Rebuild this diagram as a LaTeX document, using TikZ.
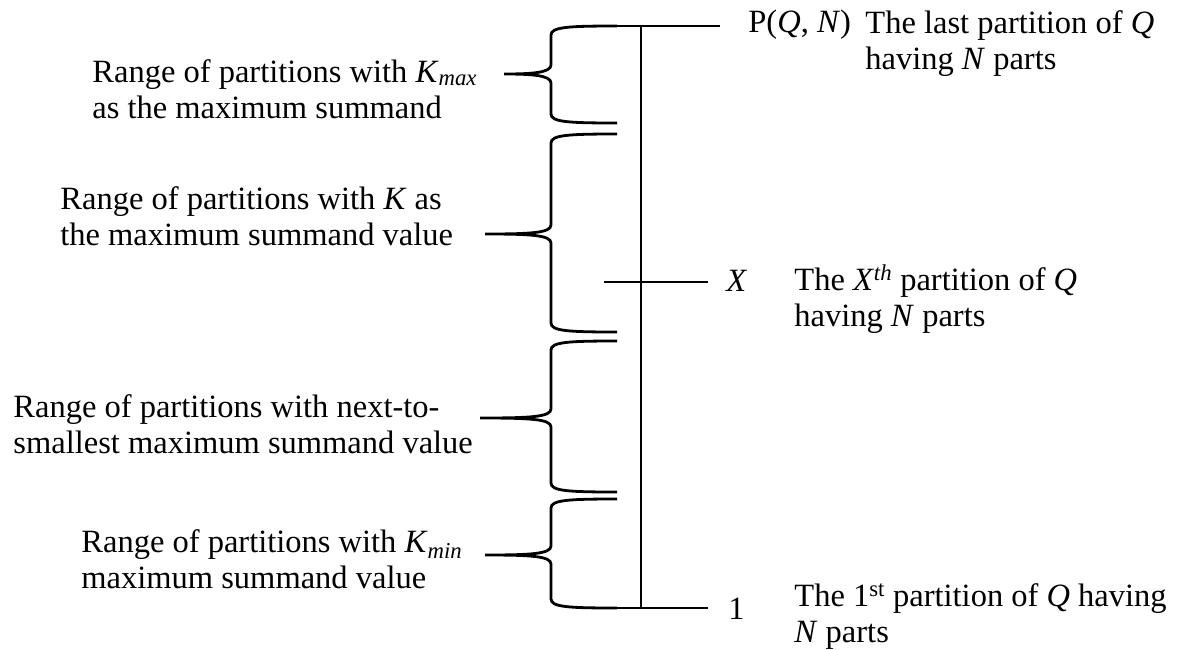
\documentclass[tikz,border=0pt]{standalone}
\usepackage{fontspec}
\setmainfont{Liberation Serif}
\newcommand{\mybrace}[4]{% top, middle, bottom, tip x
  \draw (617,#1) .. controls (568,#1) and (551,#1+1) .. (551,#1+9)
    -- (551,#2-9) .. controls (551,#2-1) and (530,#2) .. (#4,#2)
    .. controls (530,#2) and (551,#2+1) .. (551,#2+9)
    -- (551,#3-9) .. controls (551,#3-1) and (568,#3) .. (617,#3);}
\begin{document}
\begin{tikzpicture}[x=1pt,y=-1pt, line width=2.8pt,
  txt/.style={anchor=base west, inner sep=0pt, align=left, font=\fontsize{32.5}{36}\selectfont},
  lbl/.style={anchor=base west, inner sep=0pt, font=\fontsize{32.5}{36}\selectfont}]
\useasboundingbox (0,0) rectangle (1183,649);
% axis
\coordinate (top) at (641,26);
\coordinate (bot) at (641,608);
\coordinate (topend) at (720,26);
\coordinate (botend) at (708,608);
\coordinate (xl) at (604,282);
\coordinate (xr) at (708,282);
\draw (top) -- (bot);
\draw (617,26) -- (topend);
\draw (617,608) -- (botend);
\draw (xl) -- (xr);
% braces
\mybrace{26}{74}{123}{504}
\mybrace{134}{234}{332}{485}
\mybrace{341}{418}{492}{480}
\mybrace{499}{555}{608}{485}
% left texts (anchored at baseline of the last line)
\node[txt] (t1) at (91,118) {Range of partitions with \textit{K}\textsubscript{\textit{max}}\\as the maximum summand};
\node[txt] (t2) at (59,245) {Range of partitions with \textit{K} as\\the maximum summand value};
\node[txt] (t3) at (12,453) {Range of partitions with next-to-\\smallest maximum summand value};
\node[txt] (t4) at (80,588) {Range of partitions with \textit{K}\textsubscript{\textit{min}}\\maximum summand value};
% right labels
\node[lbl] (pqn) at (747,32) {P(\textit{Q}, \textit{N})};
\node[lbl] (xlab) at (725,291) {\textit{X}};
\node[lbl] (one) at (727,619) {1};
\node[txt] (r1) at (864,69) {The last partition of \textit{Q}\\having \textit{N} parts};
\node[txt] (r2) at (793,326) {The \textit{X}\textsuperscript{\textit{th}} partition of \textit{Q}\\having \textit{N} parts};
\node[txt] (r3) at (793,642) {The 1\textsuperscript{st} partition of \textit{Q} having\\\textit{N} parts};
\end{tikzpicture}
\end{document}
